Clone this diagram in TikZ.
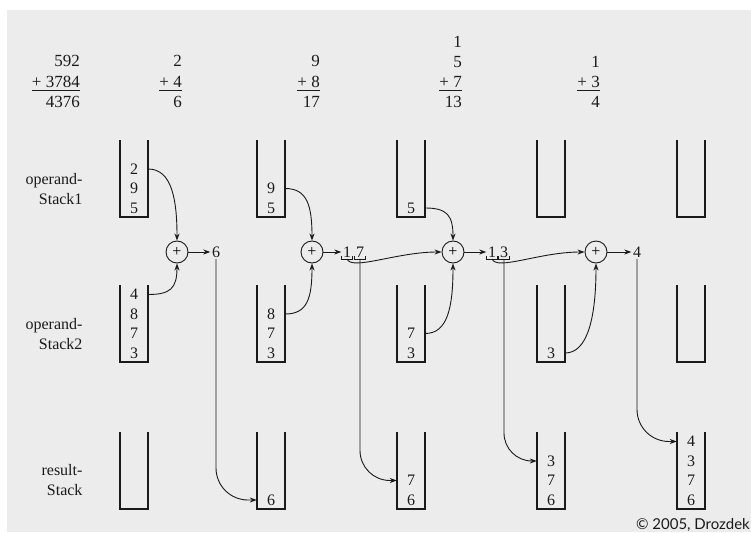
\documentclass[tikz,border=0pt]{standalone}
\usepackage{fontspec}
\setmainfont{Liberation Serif}
\newfontfamily\copyfont{Lato}
\usepackage{xcolor}
\usepackage{tikz}
\usetikzlibrary{arrows.meta, positioning, calc}
\definecolor{bggray}{HTML}{ECECEC}
\definecolor{inkblack}{HTML}{1A1A1A}

\begin{document}
\begin{tikzpicture}[x=1pt, y=-1pt,
    stack/.style={rectangle, minimum width=28pt, minimum height=76pt, inner sep=0pt},
    wall/.style={line width=1.5pt, color=inkblack, line cap=rect},
    item/.style={font=\fontsize{16}{18}\selectfont, inner sep=1pt, color=inkblack},
    sumrow/.style={font=\fontsize{17}{18}\selectfont, anchor=east, inner sep=0pt, color=inkblack},
    rowname/.style={font=\fontsize{16}{20}\selectfont, align=right, anchor=east, color=inkblack},
    adder/.style={circle, draw=inkblack, line width=0.9pt, minimum size=22pt, inner sep=0pt, font=\fontsize{16}{16}\selectfont},
    digit/.style={font=\fontsize{16}{18}\selectfont, inner sep=1.5pt, color=inkblack},
    arrow/.style={-{Stealth[length=7pt, width=5pt]}, line width=0.9pt, color=inkblack},
    bracket/.style={line width=0.8pt, color=inkblack}
]
% Background
\useasboundingbox (0,0) rectangle (751,532);
\fill[white] (0,0) rectangle (751,532);
\fill[bggray] (7,10) rectangle (751,532);

% Sums
\node[sumrow] (c0a) at (80,61) {592};
\node[sumrow] (c0b) at (80,82) {+ 3784};
\node[sumrow] (c0c) at (80,102) {4376};
\node[sumrow] (c1a) at (182,61) {2};
\node[sumrow] (c1b) at (182,82) {+ 4};
\node[sumrow] (c1c) at (182,102) {6};
\node[sumrow] (c2a) at (320,61) {9};
\node[sumrow] (c2b) at (320,82) {+ 8};
\node[sumrow] (c2c) at (320,102) {17};
\node[sumrow] (c3a) at (462,42) {1};
\node[sumrow] (c3b) at (462,62) {5};
\node[sumrow] (c3c) at (462,82) {+ 7};
\node[sumrow] (c3d) at (462,102) {13};
\node[sumrow] (c4a) at (600,62) {1};
\node[sumrow] (c4b) at (600,82) {+ 3};
\node[sumrow] (c4c) at (600,102) {4};
\foreach \n in {c0b,c1b,c2b,c3c,c4b}
  \draw[line width=0.9pt, color=inkblack] ([yshift=-3pt]\n.south west) -- ([yshift=-3pt]\n.south east);

% Row names
\node[rowname] (nameA) at (86,189) {operand-\\Stack1};
\node[rowname] (nameB) at (86,334) {operand-\\Stack2};
\node[rowname] (nameR) at (86,480) {result-\\Stack};

% Stacks
\foreach \c/\x in {1/134, 2/271, 3/411, 4/551, 5/691} {
  \node[stack] (sA\c) at (\x,179) {};
  \node[stack] (sB\c) at (\x,324) {};
  \node[stack] (sR\c) at (\x,471) {};
  \draw[wall] (sA\c.north west) |- (sA\c.south east) -- (sA\c.north east);
  \draw[wall] (sB\c.north west) |- (sB\c.south east) -- (sB\c.north east);
  \draw[wall] (sR\c.north west) |- (sR\c.south east) -- (sR\c.north east);
}

% operand-Stack1 contents
\node[item] (a1i1) at (134,169) {2};
\node[item] (a1i2) at (134,188.5) {9};
\node[item] (a1i3) at (134,208) {5};
\node[item] (a2i1) at (271,188.5) {9};
\node[item] (a2i2) at (271,208) {5};
\node[item] (a3i1) at (411,208) {5};

% operand-Stack2 contents
\node[item] (b1i1) at (134,294.5) {4};
\node[item] (b1i2) at (134,314) {8};
\node[item] (b1i3) at (134,333.5) {7};
\node[item] (b1i4) at (134,353) {3};
\node[item] (b2i1) at (271,314) {8};
\node[item] (b2i2) at (271,333.5) {7};
\node[item] (b2i3) at (271,353) {3};
\node[item] (b3i1) at (411,333.5) {7};
\node[item] (b3i2) at (411,353) {3};
\node[item] (b4i1) at (551,353) {3};

% result-Stack contents
\node[item] (r2i1) at (271,500) {6};
\node[item] (r3i1) at (411,480.5) {7};
\node[item] (r3i2) at (411,500) {6};
\node[item] (r4i1) at (551,461) {3};
\node[item] (r4i2) at (551,480.5) {7};
\node[item] (r4i3) at (551,500) {6};
\node[item] (r5i1) at (691,441.5) {4};
\node[item] (r5i2) at (691,461) {3};
\node[item] (r5i3) at (691,480.5) {7};
\node[item] (r5i4) at (691,500) {6};

% Adders and partial sums
\node[adder] (p1) at (177,252) {+};
\node[adder] (p2) at (312,252) {+};
\node[adder] (p3) at (453,252) {+};
\node[adder] (p4) at (596,252) {+};
\node[digit] (s1) at (216,252) {6};
\node[digit] (s2a) at (347,252) {1};
\node[digit] (s2b) at (360,252) {7};
\node[digit] (s3a) at (492,252) {1};
\node[digit] (s3b) at (504,252) {3};
\node[digit] (s4) at (637,252) {4};
\foreach \n in {s2a,s2b,s3a,s3b}
  \draw[bracket] ([yshift=3pt]\n.south west) |- (\n.south east) -- ([yshift=3pt]\n.south east);

\draw[arrow] (p1) -- (s1);
\draw[arrow] (p2) -- (s2a);
\draw[arrow] (p3) -- (s3a);
\draw[arrow] (p4) -- (s4);

% Popped operands
\draw[arrow] (a1i1 -| sA1.east) .. controls +(24,0) and +(0,-40) .. (p1.north);
\draw[arrow] (a2i1 -| sA2.east) .. controls +(22,0) and +(0,-35) .. (p2.north);
\draw[arrow] (a3i1 -| sA3.east) .. controls +(22,0) and +(0,-25) .. (p3.north);
\draw[arrow] (b1i1 -| sB1.east) .. controls +(22,0) and +(0,25) .. (p1.south);
\draw[arrow] (b2i1 -| sB2.east) .. controls +(22,0) and +(0,35) .. (p2.south);
\draw[arrow] (b3i1 -| sB3.east) .. controls +(22,0) and +(0,45) .. (p3.south);
\draw[arrow] (b4i1 -| sB4.east) .. controls +(22,0) and +(0,55) .. (p4.south);

% Carries
\draw[arrow] (s2a.south) .. controls +(5,12) and +(-45,0) .. (p3.west);
\draw[arrow] (s3a.south) .. controls +(5,12) and +(-45,0) .. (p4.west);

% Pushed digits
\draw[arrow, rounded corners=32pt] (s1.south) |- (r2i1 -| sR2.west);
\draw[arrow, rounded corners=30pt] (s2b.south) |- (r3i1 -| sR3.west);
\draw[arrow, rounded corners=28pt] (s3b.south) |- (r4i1 -| sR4.west);
\draw[arrow, rounded corners=32pt] (s4.south) |- (r5i1 -| sR5.west);

% Copyright
\node[font=\copyfont\fontsize{15}{18}\selectfont, anchor=base east, inner sep=0pt, color=inkblack] (copy) at (750,529) {© 2005, Drozdek};
\end{tikzpicture}
\end{document}
